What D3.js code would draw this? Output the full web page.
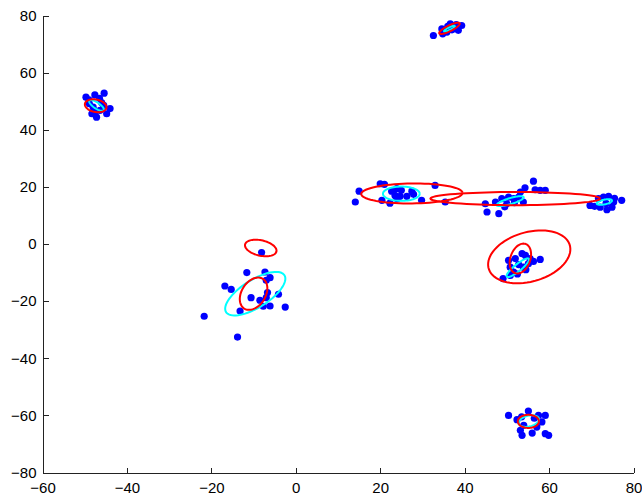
<!DOCTYPE html>
<html>
<head>
<meta charset="utf-8">
<script src="https://cdn.jsdelivr.net/npm/d3@7"></script>
<style>
  body { margin: 0; background: #fff; }
  svg { display: block; }
  .axis text { font-family: "Liberation Sans", Arial, sans-serif; font-size: 15px; fill: #000; }
  .axis path, .axis line { stroke: #222; shape-rendering: crispEdges; }
</style>
</head>
<body>
<div id="chart"></div>
<script>
// tick labels
const xTicks = [-60, -40, -20, 0, 20, 40, 60, 80];
const yTicks = [-80, -60, -40, -20, 0, 20, 40, 60, 80];

// blue points, one list per cluster [x, y]
const clusterTopLeft = [
  [-49.7, 51.4], [-47.6, 52.2], [-45.4, 52.8], [-48.9, 49.1], [-44.0, 47.4],
  [-44.8, 45.6], [-47.2, 44.4], [-48.3, 45.6], [-46.4, 46.8], [-48.0, 47.9],
  [-46.0, 49.5], [-49.0, 50.5], [-45.5, 48.5], [-47.5, 46.5], [-46.5, 51.0]
];
const clusterTop = [
  [32.6, 73.0], [34.8, 73.6], [34.6, 75.3], [36.6, 77.1], [37.7, 75.9],
  [39.3, 76.5], [38.5, 74.8], [35.8, 74.2], [37.0, 75.0], [36.0, 76.2], [38.0, 76.8]
];
const clusterBandLeft = [
  [15.0, 18.5], [14.1, 14.7], [20.0, 21.1], [21.0, 20.9], [22.7, 18.5],
  [23.9, 19.4], [23.5, 17.0], [24.7, 16.7], [26.3, 16.7], [27.5, 18.5],
  [27.9, 17.4], [20.4, 15.3], [22.3, 14.3], [29.8, 15.3], [33.0, 20.5],
  [35.4, 14.7], [25.0, 18.8], [24.0, 15.8]
];
const clusterBandMid = [
  [44.9, 14.1], [45.3, 11.2], [48.1, 10.6], [47.3, 14.7], [48.8, 15.9],
  [50.4, 16.4], [51.6, 15.9], [52.8, 16.4], [53.9, 14.7], [50.0, 14.1],
  [53.2, 18.2], [54.3, 19.7], [56.3, 22.0], [56.7, 19.0], [57.9, 18.8],
  [59.1, 18.8], [49.5, 13.0], [51.8, 14.5]
];
const clusterBandRight = [
  [69.7, 13.5], [70.8, 13.2], [71.7, 15.9], [72.9, 16.4], [74.1, 16.7],
  [75.3, 14.7], [74.9, 12.9], [73.7, 12.0], [72.1, 12.9], [77.2, 15.3],
  [73.5, 14.2], [75.5, 16.0]
];
const clusterLowLeft = [
  [-8.1, -3.0], [-11.6, -10.0], [-7.3, -9.8], [-6.1, -11.8], [-7.0, -12.7],
  [-16.8, -14.7], [-15.3, -15.9], [-6.7, -17.0], [-4.1, -17.6], [-10.6, -18.8],
  [-8.5, -19.7], [-7.0, -18.8], [-7.7, -21.8], [-6.1, -21.7], [-2.5, -22.1],
  [-13.2, -23.5], [-21.7, -25.3], [-13.8, -32.6]
];
const clusterRight = [
  [49.1, -12.1], [50.4, -5.7], [50.8, -8.1], [51.6, -9.8], [53.6, -3.4],
  [54.4, -4.0], [55.5, -5.1], [56.3, -6.1], [57.9, -5.4], [52.8, -7.2],
  [50.8, -11.0], [53.9, -8.1], [55.1, -6.9], [52.0, -5.1], [52.5, -10.5], [54.5, -9.0]
];
const clusterBottom = [
  [50.4, -60.0], [52.4, -61.5], [55.1, -58.5], [57.5, -60.0], [59.1, -60.0],
  [58.3, -62.3], [53.2, -65.2], [53.6, -67.0], [56.0, -66.2], [59.1, -66.4],
  [59.9, -67.0], [57.1, -64.1], [54.0, -63.5], [56.5, -61.0], [53.5, -60.5]
];

// ellipses: centre, semi axes and angle (degrees) in data units
const cyanEllipses = [
  { cx: -47.2, cy: 48.5, a: 2.4, b: 0.9, angle: -48 },
  { cx: 36.4, cy: 75.4, a: 1.6, b: 0.4, angle: 38 },
  { cx: 25.0, cy: 17.6, a: 4.35, b: 2.5, angle: 0 },
  { cx: 50.8, cy: 15.0, a: 3.5, b: 1.0, angle: 25 },
  { cx: 73.1, cy: 14.7, a: 1.9, b: 0.8, angle: 19 },
  { cx: -9.6, cy: -17.4, a: 9.6, b: 4.1, angle: 47.8 },
  { cx: 52.6, cy: -8.3, a: 4.1, b: 1.0, angle: 51.5 },
  { cx: 55.2, cy: -62.0, a: 2.6, b: 1.8, angle: 30 }
];
const redEllipses = [
  { cx: -47.4, cy: 48.4, a: 2.7, b: 2.1, angle: -30 },
  { cx: 36.4, cy: 75.5, a: 3.0, b: 0.9, angle: 38 },
  { cx: 27.5, cy: 17.7, a: 12.0, b: 3.5, angle: 1 },
  { cx: 52.0, cy: 15.9, a: 20.1, b: 2.3, angle: 0 },
  { cx: -10.0, cy: -17.4, a: 5.8, b: 3.0, angle: 75 },
  { cx: -8.3, cy: -1.4, a: 3.96, b: 2.59, angle: -26 },
  { cx: 55.3, cy: -4.5, a: 10.8, b: 8.0, angle: 40 },
  { cx: 53.2, cy: -5.1, a: 5.3, b: 2.4, angle: 80 },
  { cx: 55.1, cy: -62.1, a: 2.5, b: 2.3, angle: 0 }
];

const allPoints = [].concat(
  clusterTopLeft, clusterTop, clusterBandLeft, clusterBandMid,
  clusterBandRight, clusterLowLeft, clusterRight, clusterBottom
);

const svgWidth = 642;
const svgHeight = 497;

const svg = d3
  .select("#chart")
  .append("svg")
  .attr("width", svgWidth)
  .attr("height", svgHeight);

const xScale = d3.scaleLinear().domain([-60, 80]).range([42.5, 633.5]);
const yScale = d3.scaleLinear().domain([-80, 80]).range([472.5, 15.5]);

// outline of an ellipse, traced in data space
const ellipseOutline = (e) => {
  const t = (e.angle * Math.PI) / 180;
  return d3.range(0, 73).map((i) => {
    const p = (i / 72) * 2 * Math.PI;
    const u = e.a * Math.cos(p);
    const v = e.b * Math.sin(p);
    return [e.cx + u * Math.cos(t) - v * Math.sin(t), e.cy + u * Math.sin(t) + v * Math.cos(t)];
  });
};

const line = d3
  .line()
  .x((d) => xScale(d[0]))
  .y((d) => yScale(d[1]));

svg
  .append("g")
  .selectAll("circle")
  .data(allPoints)
  .enter()
  .append("circle")
  .attr("cx", (d) => xScale(d[0]))
  .attr("cy", (d) => yScale(d[1]))
  .attr("r", 3.6)
  .attr("fill", "#0000ff");

svg
  .append("g")
  .selectAll("path")
  .data(cyanEllipses)
  .enter()
  .append("path")
  .attr("d", (d) => line(ellipseOutline(d)))
  .attr("fill", "none")
  .attr("stroke", "#00ffff")
  .attr("stroke-width", 2);

svg
  .append("g")
  .selectAll("path")
  .data(redEllipses)
  .enter()
  .append("path")
  .attr("d", (d) => line(ellipseOutline(d)))
  .attr("fill", "none")
  .attr("stroke", "#ff0000")
  .attr("stroke-width", 2);

// axes: ticks point inward, no box
svg
  .append("g")
  .attr("class", "axis")
  .attr("transform", "translate(0," + yScale(-80) + ")")
  .call(
    d3.axisBottom(xScale).tickValues(xTicks).tickSizeInner(-5).tickSizeOuter(0).tickPadding(10)
  );

svg
  .append("g")
  .attr("class", "axis")
  .attr("transform", "translate(" + xScale(-60) + ",0)")
  .call(
    d3.axisLeft(yScale).tickValues(yTicks).tickSizeInner(-6).tickSizeOuter(0).tickPadding(6)
  );
</script>
</body>
</html>
